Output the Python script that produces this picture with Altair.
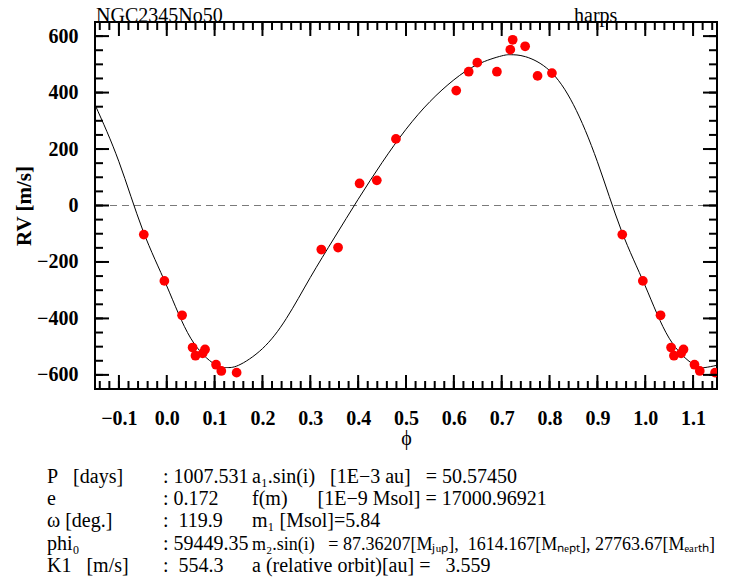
import altair as alt
import pandas as pd

# ---------------- data ----------------
# observed radial velocities (phase in [0,1), RV in m/s)
obs_phase = [0.952, 0.995, 0.032, 0.054, 0.060, 0.075, 0.080, 0.103, 0.114, 0.146,
             0.323, 0.358, 0.403, 0.439, 0.479, 0.605, 0.631, 0.649, 0.690, 0.718,
             0.723, 0.749, 0.775, 0.805]
obs_rv = [-103, -267, -389, -503, -532, -524, -510, -564, -586, -592,
          -156, -149, 78, 89, 236, 407, 474, 506, 474, 552,
          587, 564, 459, 469]

# orbital model curve (one period)
model_phase = [0.00, 0.05, 0.10, 0.125, 0.15, 0.20, 0.25, 0.30, 0.35, 0.40, 0.45,
               0.50, 0.55, 0.60, 0.65, 0.70, 0.72, 0.75, 0.80, 0.85, 0.90, 0.95]
model_rv = [-285, -470, -562, -574, -566, -507, -400, -255, -115, 22, 152,
            270, 368, 445, 500, 530, 534, 527, 478, 357, 155, -88]

x_range = [-0.15, 1.15]
y_range = [-650, 650]
x_major = [-0.1, 0.0, 0.1, 0.2, 0.3, 0.4, 0.5, 0.6, 0.7, 0.8, 0.9, 1.0, 1.1]
x_minor = [round(-0.14 + 0.02 * i, 2) for i in range(65)]
y_major = [-600, -400, -200, 0, 200, 400, 600]
y_minor = list(range(-600, 601, 50))
zero_level = [0]

title_left = "NGC2345No50"
title_right = "harps"
x_title = "ϕ"
y_title = "RV [m/s]"

NB = "\u00a0"
info_col1 = ["P" + NB * 3 + "[days]", "e", "ω [deg.]", "phi₀", "K1" + NB * 3 + "[m/s]"]
info_col2 = [": 1007.531", ": 0.172", ":" + NB * 2 + "119.9", ": 59449.35", ":" + NB * 2 + "554.3"]
info_col3 = ["a₁.sin(i)" + NB * 3 + "[1E−3 au]" + NB * 3 + "= 50.57450",
             "f(m)" + NB * 6 + "[1E−9 Msol] = 17000.96921",
             "m₁ [Msol]=5.84",
             "m₂.sin(i)" + NB * 3 + "= 87.36207[Mⱼᵤₚ]," + NB * 2 + "1614.167[Mₙₑₚₜ], 27763.67[Mₑₐᵣₜₕ]",
             "a (relative orbit)[au] =" + NB * 3 + "3.559"]
info_sizes3 = [20, 20, 20, 18, 20]

# ---------------- layout ----------------
W, H = 622, 367
SERIF = "Liberation Serif"


def fold(ph, vals, lo, hi):
    rows = []
    for p, v in zip(ph, vals):
        for s in (-1, 0, 1):
            q = p + s
            if lo - 1e-9 <= q <= hi + 1e-9:
                rows.append((round(q, 4), v))
    rows.sort()
    return pd.DataFrame(rows, columns=["x", "y"])


pts = fold(obs_phase, obs_rv, *x_range)
curve = fold(model_phase, model_rv, *x_range)

xs = alt.Scale(domain=x_range, nice=False, zero=False)
ys = alt.Scale(domain=y_range, nice=False, zero=False)

x_axis = alt.Axis(values=x_major, format=".1f", ticks=False, domain=False, grid=False,
                  labelFont=SERIF, labelFontSize=20, labelFontWeight="bold",
                  labelColor="black", labelPadding=19, labelFlush=False,
                  title=x_title, titleFont=SERIF, titleFontSize=20,
                  titleFontWeight="normal", titleColor="black",
                  titleX=W / 2, titleY=49, titleAlign="center", titleBaseline="middle")
y_axis = alt.Axis(values=y_major, format="d", ticks=False, domain=False, grid=False,
                  labelFont=SERIF, labelFontSize=20, labelFontWeight="bold",
                  labelColor="black", labelPadding=17, labelFlush=False,
                  title=y_title, titleFont=SERIF, titleFontSize=21,
                  titleFontWeight="bold", titleColor="black",
                  titleX=-71, titleY=H / 2, titleAngle=-90,
                  titleAlign="center", titleBaseline="middle")

X = alt.X("x:Q", scale=xs, axis=x_axis)
Y = alt.Y("y:Q", scale=ys, axis=y_axis)

zero = alt.Chart(pd.DataFrame({"y": zero_level})).mark_rule(
    color="#7a7a7a", strokeDash=[7, 5], strokeWidth=1
).encode(y=Y)

line = alt.Chart(curve).mark_line(color="black", strokeWidth=1, interpolate="natural",
                                  clip=True).encode(x=X, y=Y)

points = alt.Chart(pts).mark_point(shape="circle", filled=True, size=95, color="#ff0000",
                                   opacity=1, clip=True).encode(x=X, y=Y)

layers = [zero, line, points]


def xticks(vals, length):
    d = pd.DataFrame({"x": vals})
    bottom = alt.Chart(d).mark_rule(color="black", strokeWidth=2).encode(
        x=X, y=alt.value(H), y2=alt.value(H - length))
    top = alt.Chart(d).mark_rule(color="black", strokeWidth=2).encode(
        x=X, y=alt.value(0), y2=alt.value(length))
    return [bottom, top]


def yticks(vals, length):
    d = pd.DataFrame({"y": vals})
    left = alt.Chart(d).mark_rule(color="black", strokeWidth=2).encode(
        y=Y, x=alt.value(0), x2=alt.value(length))
    right = alt.Chart(d).mark_rule(color="black", strokeWidth=2).encode(
        y=Y, x=alt.value(W), x2=alt.value(W - length))
    return [left, right]


layers += xticks(x_minor, 8) + xticks(x_major, 14) + yticks(y_minor, 8) + yticks(y_major, 14)


def text_layer(s, x, y, size, weight="normal"):
    return alt.Chart(pd.DataFrame({"t": [s]})).mark_text(
        align="left", baseline="alphabetic", font=SERIF, fontSize=size,
        fontWeight=weight, color="black"
    ).encode(text="t:N", x=alt.value(x), y=alt.value(y))


layers.append(text_layer(title_left, 1, -0.5, 20))
layers.append(text_layer(title_right, 479, -0.5, 20))

ROW0, STEP = 461, 22.2
for i in range(5):
    yy = ROW0 + i * STEP
    layers.append(text_layer(info_col1[i], -48, yy, 20))
    layers.append(text_layer(info_col2[i], 68, yy, 20))
    layers.append(text_layer(info_col3[i], 157, yy, info_sizes3[i]))

chart = alt.layer(*layers).properties(
    width=W, height=H,
    autosize=alt.AutoSizeParams(type="none"),
    padding={"left": 87, "top": 14, "right": 20, "bottom": 191},
).configure_view(stroke="black", strokeWidth=2)

chart.save("out.html", embed_options={"renderer": "svg", "actions": False})
